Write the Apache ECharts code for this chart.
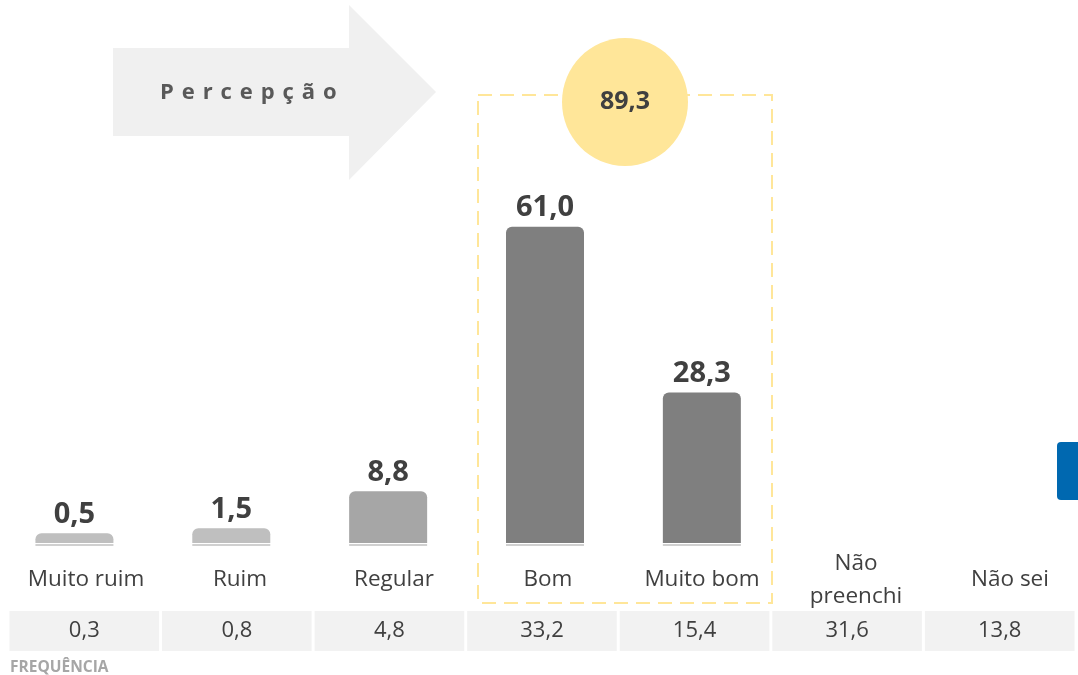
<!DOCTYPE html>
<html>
<head>
<meta charset="utf-8">
<script src="https://cdn.jsdelivr.net/npm/echarts@6/dist/echarts.min.js"></script>
<style>
  html, body { margin: 0; padding: 0; background: #fff; }
  #chart { width: 1078px; height: 675px; }
</style>
</head>
<body>
<div id="chart"></div>
<script>
// data
const categories = ['Muito ruim', 'Ruim', 'Regular', 'Bom', 'Muito bom', 'Não\npreenchi', 'Não sei'];
const percentValues = [0.5, 1.5, 8.8, 61.0, 28.3, null, null];
const frequencyValues = [0.3, 0.8, 4.8, 33.2, 15.4, 31.6, 13.8];
const barColors = ['#bfbfbf', '#bfbfbf', '#a6a6a6', '#7f7f7f', '#7f7f7f'];

const fmt = v => v.toFixed(1).replace('.', ',');
const positiveTotal = percentValues[3] + percentValues[4];

const chart = echarts.init(document.getElementById('chart'));
const font = '"Open Sans", "Noto Sans", sans-serif';

let option = {
    animation: false,
    grid: [
        { left: -4, right: -16, top: 181, bottom: 129, outerBoundsMode: 'none' },   // bars
        { left: 9, right: -9, top: 579, height: 1, outerBoundsMode: 'none' },        // category labels
        { left: 8, right: 2, top: 611, height: 40, outerBoundsMode: 'none' }         // frequency table
    ],
    xAxis: [
        {
            gridIndex: 0, type: 'category', data: categories,
            axisLine: { show: false }, axisTick: { show: false }, axisLabel: { show: false }
        },
        {
            gridIndex: 1, type: 'category', data: categories,
            axisLine: { show: false }, axisTick: { show: false },
            axisLabel: {
                margin: 0, verticalAlign: 'middle', interval: 0,
                fontFamily: font, fontSize: 22.5, color: '#404040', lineHeight: 33
            }
        },
        {
            gridIndex: 2, type: 'category', data: categories,
            axisLine: { show: false }, axisTick: { show: false }, axisLabel: { show: false }
        }
    ],
    yAxis: [
        { gridIndex: 0, type: 'value', min: -2, max: 70, show: false },
        { gridIndex: 1, type: 'value', show: false },
        { gridIndex: 2, type: 'value', min: 0, max: 1, show: false }
    ],
    series: [
        {
            // bars drawn from the bottom of the plot, with a thin underline
            type: 'custom',
            xAxisIndex: 0, yAxisIndex: 0,
            data: percentValues.map((v, i) => [i, v]).filter(d => d[1] != null),
            renderItem: function (params, api) {
                const cs = params.coordSys;
                const i = api.value(0);
                const top = api.coord([i, api.value(1)]);
                const base = cs.y + cs.height;
                const w = 78;
                return {
                    type: 'group',
                    children: [
                        {
                            type: 'rect',
                            shape: { x: top[0] - w / 2, y: top[1], width: w, height: base - 3 - top[1], r: [6, 6, 0, 0] },
                            style: { fill: barColors[i] }
                        },
                        {
                            type: 'rect',
                            shape: { x: top[0] - w / 2, y: base - 2, width: w, height: 2 },
                            style: { fill: '#d0d0d0' }
                        },
                        {
                            type: 'text',
                            x: top[0], y: top[1] - 4,
                            style: {
                                text: fmt(api.value(1)),
                                align: 'center', verticalAlign: 'bottom',
                                font: 'bold 29px ' + font, fill: '#404040'
                            }
                        }
                    ]
                };
            }
        },
        {
            type: 'custom',
            xAxisIndex: 2, yAxisIndex: 2,
            data: frequencyValues.map((v, i) => [i, v]),
            renderItem: function (params, api) {
                const cs = params.coordSys;
                const bw = api.size([1, 0])[0];
                const cx = api.coord([api.value(0), 0])[0];
                return {
                    type: 'group',
                    children: [
                        {
                            type: 'rect',
                            shape: { x: cx - bw / 2 + 1.5, y: cs.y, width: bw - 3, height: cs.height },
                            style: { fill: '#f2f2f2' }
                        },
                        {
                            type: 'text',
                            x: cx, y: cs.y + cs.height / 2,
                            style: {
                                text: fmt(api.value(1)),
                                align: 'center', verticalAlign: 'middle',
                                font: '22px ' + font, fill: '#404040'
                            }
                        }
                    ]
                };
            }
        }
    ],
    graphic: [
        // arrow
        {
            type: 'polygon', z: 0,
            shape: { points: [[113, 48], [349, 48], [349, 5], [436, 92], [349, 180], [349, 136], [113, 136]] },
            style: { fill: '#f0f0f0' }
        },
        {
            type: 'text', x: 160, y: 93,
            style: {
                text: 'P \u200Ae \u200Ar \u200Ac \u200Ae \u200Ap \u200Aç \u200Aã \u200Ao', verticalAlign: 'middle',
                font: 'bold 22px ' + font, fill: '#595959'
            }
        },
        // dashed box around positive answers
        {
            type: 'rect', z: 1,
            shape: { x: 478, y: 95, width: 294, height: 508 },
            style: { fill: null, stroke: '#ffe699', lineWidth: 2, lineDash: [14, 8] }
        },
        {
            type: 'ellipse', z: 2,
            shape: { cx: 625, cy: 102, rx: 63, ry: 64 },
            style: { fill: '#ffe699' }
        },
        {
            type: 'text', z: 3, x: 625, y: 102,
            style: {
                text: fmt(positiveTotal), align: 'center', verticalAlign: 'middle',
                font: 'bold 25px ' + font, fill: '#404040'
            }
        },
        // blue tab at the right edge
        {
            type: 'rect',
            shape: { x: 1057, y: 442, width: 30, height: 58, r: 4 },
            style: { fill: '#0068b0' }
        },
        {
            type: 'text', x: 10, y: 668,
            style: {
                text: 'FREQUÊNCIA', verticalAlign: 'middle',
                font: 'bold 15.5px ' + font, fill: '#a6a6a6'
            }
        }
    ]
};

chart.setOption(option);
</script>
</body>
</html>
